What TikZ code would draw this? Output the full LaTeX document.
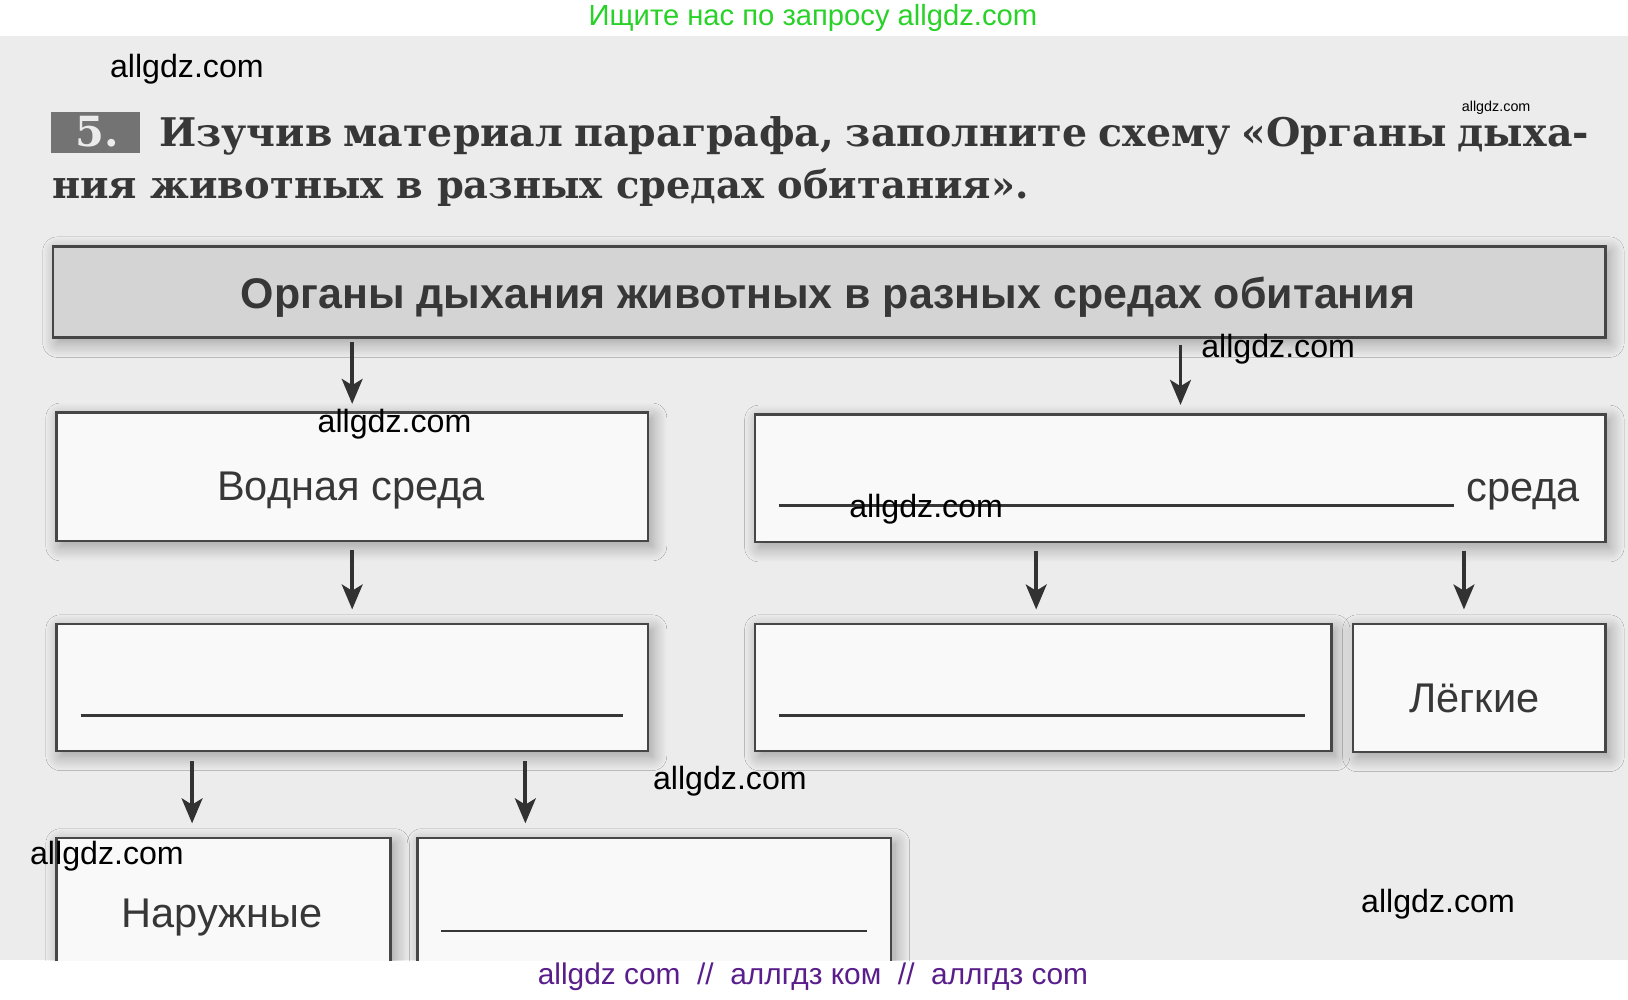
\documentclass[tikz,border=0pt]{standalone}
\usepackage{fontspec}
\setmainfont{Liberation Sans}
\newfontfamily\serifdv{DejaVu Serif}
\usetikzlibrary{arrows.meta,shadows.blur}
\definecolor{pagebg}{RGB}{236,236,236}
\definecolor{boxfill}{RGB}{249,249,249}
\definecolor{hdrfill}{RGB}{212,212,212}
\definecolor{boxline}{RGB}{70,70,70}
\definecolor{arrowc}{RGB}{50,50,50}
\definecolor{txt}{RGB}{55,55,55}
\definecolor{numbg}{RGB}{115,115,115}
\definecolor{numtxt}{RGB}{235,235,235}
\definecolor{wmgreen}{RGB}{40,210,40}
\definecolor{wmpurple}{RGB}{90,30,140}
\begin{document}
\begin{tikzpicture}[x=0.5pt,y=-0.5pt,
  box/.style={draw=boxline, line width=1.2pt, fill=boxfill, anchor=north west, inner sep=0pt,
    blur shadow={shadow xshift=2pt, shadow yshift=-2.5pt, shadow blur radius=7pt, shadow blur steps=14, shadow opacity=35}},
  arr/.style={draw=arrowc, line width=1.9pt, -{Stealth[length=12pt,width=10pt,inset=3pt]}},
  wm/.style={text=black, inner sep=0pt},
  lbl/.style={text=txt, inner sep=0pt, anchor=base, font=\fontsize{20}{24}\selectfont},
  titlef/.style={text=txt, inner sep=0pt, anchor=base west, font=\serifdv\bfseries\fontsize{19}{22}\selectfont},
  uline/.style={draw=txt, line width=1.1pt}]
\useasboundingbox (0,0) rectangle (1568,963);
\fill[white] (0,0) rectangle (1568,963);
\begin{scope}
\clip (0,35) rectangle (1568,925);
\fill[pagebg] (0,35) rectangle (1568,925);
% task number and title
\node[fill=numbg, minimum width=42.5pt, minimum height=20pt, anchor=north west, inner sep=0pt] (numbox) at (49,107) {};
\node[anchor=base west, inner sep=0pt, text=numtxt, font=\serifdv\bfseries\fontsize{20}{22}\selectfont] (num) at (72,141) {5.};
\node[titlef] (t1) at (153,141) {\makebox[688.5pt][s]{Изучив материал параграфа, заполните схему «Органы дыха-}};
\node[titlef] (t2) at (50,191) {\resizebox{470pt}{!}{ния животных в разных средах обитания».}};
% header
\node[box, fill=hdrfill, minimum width=747.5pt, minimum height=44pt] (hdr) at (50,236) {};
\node[text=txt, inner sep=0pt, anchor=base] (hdrt) at (797.5,297) {\resizebox{565.5pt}{!}{\bfseries Органы дыхания животных в разных средах обитания}};
% row 1
\node[box, minimum width=285pt, minimum height=62pt] (water) at (53,396) {};
\node[lbl] (watert) at (338,482) {Водная среда};
\node[box, minimum width=409.5pt, minimum height=61.5pt] (env) at (726,398) {};
\node[lbl, anchor=base west] (envt) at (1412,483) {среда};
\draw[uline] (750,487) -- (1400,487);
% row 2
\node[box, minimum width=285pt, minimum height=61pt] (r2l) at (53,600) {};
\draw[uline] (78,689) -- (600,689);
\node[box, minimum width=277.5pt, minimum height=61pt] (r2m) at (726,600) {};
\draw[uline] (750,689) -- (1257,689);
\node[box, minimum width=121.5pt, minimum height=61.5pt] (r2r) at (1302,600) {};
\node[lbl, anchor=base west] (r2rt) at (1357,686) {Лёгкие};
% row 3
\node[box, minimum width=161pt, minimum height=80pt] (r3l) at (53,806) {};
\node[lbl, anchor=base west] (r3lt) at (117,893) {Наружные};
\node[box, minimum width=228pt, minimum height=80pt] (r3r) at (401,806) {};
\draw[uline] (425,897) -- (835,897);
% arrows
\coordinate (x2) at (1137,0);
\coordinate (x4) at (998,0);
\coordinate (x5) at (1410,0);
\coordinate (x6) at (185,0);
\coordinate (x7) at (506,0);
\draw[arr, shorten <=1.5pt, shorten >=3.5pt] (hdr.south -| water.north) -- (water.north);
\draw[arr, shorten <=3pt, shorten >=4pt] (hdr.south -| x2) -- (env.north -| x2);
\draw[arr, shorten <=3.5pt, shorten >=6.5pt] (water.south) -- (r2l.north);
\draw[arr, shorten <=3.5pt, shorten >=6.5pt] (env.south -| x4) -- (r2m.north -| x4);
\draw[arr, shorten <=3.5pt, shorten >=6.5pt] (env.south -| x5) -- (r2r.north -| x5);
\draw[arr, shorten <=4.5pt, shorten >=6.5pt] (r2l.south -| x6) -- (r3l.north -| x6);
\draw[arr, shorten <=4.5pt, shorten >=6.5pt] (r2l.south -| x7) -- (r3r.north -| x7);
\end{scope}
% watermarks
\node[inner sep=0pt, text=wmgreen] (wtop) at (783,17) {\resizebox{216pt}{!}{Ищите нас по запросу allgdz.com}};
\node[wm] (w1) at (180,67) {\resizebox{74pt}{!}{allgdz.com}};
\node[wm] (w2) at (1441,104) {\resizebox{33pt}{!}{allgdz.com}};
\node[wm] (w3) at (380,409) {\resizebox{74pt}{!}{allgdz.com}};
\node[wm] (w4) at (1231,336) {\resizebox{74pt}{!}{allgdz.com}};
\node[wm] (w5) at (892,490) {\resizebox{74pt}{!}{allgdz.com}};
\node[wm] (w6) at (703,752) {\resizebox{74pt}{!}{allgdz.com}};
\node[wm] (w7) at (103,825) {\resizebox{74pt}{!}{allgdz.com}};
\node[wm] (w8) at (1385,871) {\resizebox{74pt}{!}{allgdz.com}};
\node[inner sep=0pt, text=wmpurple] (wbot) at (783,941) {\resizebox{265pt}{!}{allgdz com\ \ //\ \ аллгдз ком\ \ //\ \ аллгдз com}};
\end{tikzpicture}
\end{document}
